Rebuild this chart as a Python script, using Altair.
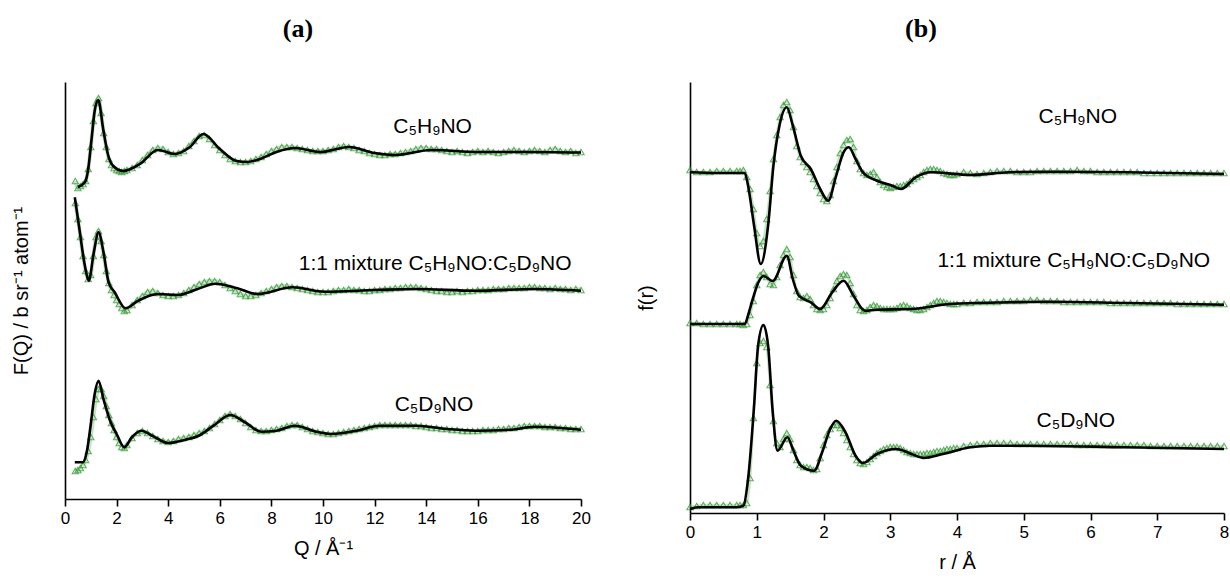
import altair as alt
import pandas as pd

# ---------------- Panel (a): F(Q) ----------------
Q_GRID = [0.4, 0.5, 0.6, 0.7, 0.8, 0.9, 1.0, 1.1, 1.2, 1.3, 1.4, 1.5, 1.6, 1.7, 1.8, 1.9, 2.0, 2.1, 2.2, 2.3, 2.4,
          2.6, 2.8, 3.0, 3.2, 3.4, 3.6, 3.8, 4.0, 4.2, 4.4, 4.6, 4.8, 5.0, 5.2, 5.4, 5.6, 5.8, 6.0, 6.2, 6.4,
          6.6, 6.8, 7.0, 7.2, 7.4, 7.6, 7.8, 8.0, 8.2, 8.4, 8.6, 8.8, 9.0, 9.2, 9.4, 9.6, 9.8, 10.0, 10.2, 10.4,
          10.6, 10.8, 11.0, 11.2, 11.4, 11.6, 11.8, 12.0, 12.2, 12.4, 12.6, 12.8, 13.0, 13.2, 13.4, 13.6, 13.8, 14.0,
          14.2, 14.4, 14.6, 14.8, 15.0, 15.2, 15.4, 15.6, 15.8, 16.0, 16.2, 16.4, 16.6, 16.8, 17.0, 17.2, 17.4, 17.6,
          17.8, 18.0, 18.2, 18.4, 18.6, 18.8, 19.0, 19.2, 19.4, 19.6, 19.8, 20.0]

# measured F(Q) (green triangles), offset curves, arbitrary units
FQ_H_DATA = [318, 311, 313, 315, 318, 330, 352, 378, 396, 401, 386, 366, 352, 340, 334, 331, 329, 328, 327, 328, 329,
             331, 334, 339, 344, 349, 351, 350, 347, 345, 346, 348, 353, 358, 363, 364, 360, 354, 349, 344, 340,
             338, 337, 337, 338, 340, 342, 345, 348, 350, 352, 352, 352, 351, 350, 349, 348, 348, 348, 349, 350,
             352, 353, 352, 351, 349, 348, 346, 345, 344, 344, 345, 345, 346, 347, 348, 350, 351, 351,
             350, 350, 349, 348, 347, 348, 347, 346, 347, 348, 347, 348, 347, 346, 347, 348, 349, 348,
             347, 348, 349, 348, 347, 349, 350, 348, 347, 348, 346, 347]
FQ_MIX_DATA = [296, 280, 262, 243, 228, 220, 224, 243, 262, 268, 258, 244, 228, 216, 209, 204, 199, 195, 191, 188, 189,
               194, 199, 203, 207, 208, 206, 204, 203, 203, 204, 206, 209, 212, 215, 217, 218, 218, 217, 214, 211,
               208, 205, 203, 203, 204, 206, 208, 210, 212, 213, 213, 212, 211, 210, 209, 208, 207, 207, 207, 208,
               209, 209, 210, 209, 209, 208, 208, 209, 209, 210, 210, 211, 211, 212, 212, 212, 211, 210,
               209, 208, 208, 207, 207, 208, 207, 208, 208, 209, 209, 209, 210, 210, 210, 211, 211, 211,
               211, 212, 212, 211, 211, 210, 211, 210, 210, 209, 210, 209]
FQ_D_DATA = [28, 29, 31, 34, 39, 48, 62, 82, 100, 110, 110, 103, 93, 84, 76, 69, 62, 56, 52, 51, 54,
             61, 66, 68, 66, 63, 60, 58, 57, 58, 60, 61, 62, 64, 66, 68, 71, 75, 79, 83, 85,
             83, 80, 76, 72, 69, 68, 68, 69, 70, 71, 73, 74, 74, 72, 70, 68, 67, 66, 65, 65,
             66, 67, 68, 69, 70, 71, 72, 73, 74, 74, 74, 74, 74, 74, 74, 73, 73, 72,
             71, 71, 70, 70, 69, 69, 68, 68, 68, 68, 69, 69, 69, 70, 70, 71, 71, 72,
             73, 73, 73, 73, 72, 72, 72, 71, 71, 70, 70, 70]

# fitted F(Q) (black lines)
FQ_H_FIT_Q = [0.5, 0.78, 0.9, 1.03, 1.15, 1.29, 1.48, 1.68, 1.87, 2.26, 2.9, 3.6, 4.26, 4.84, 5.36, 6.0, 6.65, 7.04,
              7.56, 8.2, 8.9, 9.9, 11.0, 12.0, 12.8, 14.2, 16, 18, 20]
FQ_H_FIT = [312, 317, 330, 360, 388, 399, 370, 343, 333, 328, 335, 349, 345, 352, 365, 350, 338, 337,
            340, 347, 351, 347, 352, 346, 344, 349, 347, 347, 346.5]
FQ_MIX_FIT_Q = [0.38, 0.54, 0.77, 0.92, 1.12, 1.3, 1.49, 1.69, 1.92, 2.35, 2.84, 3.6, 4.37, 5.14, 5.83, 6.68, 7.44,
                8.83, 10.05, 12.05, 13.6, 15.9, 18.2, 20]
FQ_MIX_FIT = [301.7, 273.3, 233.3, 218.3, 247, 266.7, 247, 216.7, 207, 190.7, 198.3, 205, 204, 210, 215.3, 210.7, 205,
              211.7, 207.3, 209, 210, 208.3, 210, 208.3]
FQ_D_FIT_Q = [0.38, 0.69, 0.85, 1.0, 1.15, 1.3, 1.49, 1.77, 2.0, 2.3, 2.6, 2.96, 3.38, 3.99, 4.68, 5.14, 5.76, 6.4,
              6.98, 7.6, 8.2, 8.9, 9.75, 10.36, 11.3, 12.2, 13.6, 14.8, 15.9, 17.3, 18.2, 20]
FQ_D_FIT = [36.7, 36.7, 48, 75, 105, 118.3, 100, 76.7, 65, 51.7, 62, 68.3, 63.3, 56, 59.3, 62.7, 73.3, 84,
            76.7, 67.3, 68.3, 73.3, 67.3, 65, 68.3, 73.3, 73.3, 70, 68.3, 69.3, 72.3, 69.3]

# ---------------- Panel (b): f(r) ----------------
R_GRID = [0.0, 0.1, 0.2, 0.3, 0.4, 0.5, 0.6,
          0.7, 0.75, 0.8, 0.85, 0.9, 0.95, 1.0, 1.05, 1.1, 1.15, 1.2, 1.25, 1.3, 1.35, 1.4, 1.45, 1.5, 1.55,
          1.6, 1.65, 1.7, 1.75, 1.8, 1.85, 1.9, 1.95, 2.0, 2.05, 2.1, 2.15, 2.2, 2.25, 2.3, 2.35, 2.4, 2.45,
          2.5, 2.55, 2.6, 2.65, 2.7, 2.75, 2.8, 2.85, 2.9, 2.95, 3.0, 3.05, 3.1, 3.15, 3.2, 3.25, 3.3, 3.35,
          3.4, 3.45, 3.5, 3.55, 3.6, 3.65, 3.7, 3.75, 3.8, 3.85, 3.9, 3.95, 4.0,
          4.1, 4.2, 4.3, 4.4, 4.5, 4.6, 4.7, 4.8, 4.9, 5.0, 5.1, 5.2, 5.3, 5.4, 5.5, 5.6, 5.7, 5.8, 5.9, 6.0,
          6.1, 6.2, 6.3, 6.4, 6.5, 6.6, 6.7, 6.8, 6.9, 7.0, 7.1, 7.2, 7.3, 7.4, 7.5, 7.6, 7.7, 7.8, 7.9, 8.0]

FR_H_DATA = [343, 341, 341, 341, 342, 342, 342,
             342, 342, 343, 336, 324, 304, 280, 267, 272, 294, 322, 354, 378, 396, 408, 411, 403, 386,
             367, 356, 351, 346, 341, 334, 327, 320, 314, 312, 318, 332, 346, 360, 368, 373, 374, 366,
             352, 344, 340, 338, 339, 341, 336, 331, 328, 326, 325, 326, 327, 327, 328, 329, 332, 334,
             336, 338, 341, 343, 344, 344, 343, 342, 340, 339, 338, 338, 339,
             341, 340, 339, 340, 341, 342, 342, 342, 341, 341, 341, 342, 342, 342, 342, 342, 342, 343, 342, 342,
             341, 341, 341, 341, 341, 341, 341, 340, 340, 340, 340, 340, 340, 340, 340, 340, 340, 340, 340, 340]
FR_MIX_DATA = [190, 190, 189, 189, 189, 189, 189,
               189, 189, 188, 189, 198, 212, 228, 238, 241, 236, 229, 228, 236, 248, 258, 264, 256, 238,
               222, 216, 215, 217, 214, 208, 204, 203, 204, 208, 215, 224, 232, 237, 239, 238, 230, 219,
               208, 203, 202, 203, 206, 208, 207, 205, 204, 204, 204, 204, 205, 207, 208, 207, 205, 204,
               203, 203, 204, 206, 208, 210, 212, 212, 211, 210, 209, 209, 209,
               210, 210, 211, 211, 211, 211, 212, 212, 212, 212, 213, 213, 212, 212, 212, 211, 211, 211, 211, 211,
               211, 211, 210, 210, 210, 210, 210, 210, 210, 210, 210, 210, 209, 209, 209, 209, 209, 209, 209, 209]
FR_D_DATA = [6, 7, 8, 8, 8, 8, 8,
             8, 8, 8, 10, 35, 95, 150, 170, 172, 166, 128, 92, 70, 66, 74, 80, 74, 63,
             53, 48, 46, 46, 45, 43, 44, 55, 68, 78, 84, 88, 88, 85, 80, 73, 66, 59,
             53, 50, 49, 51, 54, 57, 60, 62, 64, 65, 66, 66, 66, 65, 63, 61, 60, 59,
             59, 59, 59, 60, 60, 61, 62, 62, 63, 64, 64, 65, 65,
             67, 68, 69, 69, 70, 70, 70, 70, 69, 69, 69, 69, 69, 69, 69, 69, 69, 68, 68, 68,
             68, 68, 68, 68, 68, 68, 68, 68, 67, 67, 67, 67, 67, 67, 67, 67, 67, 67, 67, 67]

FR_H_FIT_R = [0, 0.4, 0.82, 0.87, 0.96, 1.06, 1.17, 1.25, 1.34, 1.45, 1.54, 1.66, 1.81, 1.95, 2.07, 2.19, 2.3, 2.38,
              2.48, 2.59, 2.8, 3.03, 3.16, 3.38, 3.61, 4.2, 4.78, 5.36, 6.53, 8]
FR_H_FIT = [340.7, 340, 340, 327.3, 287.3, 249, 287.3, 347.3, 387.3, 405.7, 387.3, 357.3, 344, 324, 312.3, 337.3,
            360.7, 365.7, 354, 340.7, 332.3, 327.3, 324, 335.7, 340.7, 338, 340.7, 341.3, 340.7, 339]
FR_MIX_FIT_R = [0, 0.82, 0.88, 0.94, 1.02, 1.1, 1.24, 1.45, 1.54, 1.63, 1.81, 1.95, 2.13, 2.3, 2.45, 2.62, 2.8, 3.32,
                3.9, 4.78, 5.36, 6.53, 8]
FR_MIX_FIT = [189, 189, 200, 214, 230, 237, 232, 257.3, 234, 217.3, 210.7, 204, 220.7, 232.3, 217.3, 202.3, 203.3,
              204, 209, 210.7, 211.3, 210, 208.3]
FR_D_FIT_R = [0, 0.12, 0.7, 0.8, 0.87, 0.96, 1.02, 1.1, 1.17, 1.24, 1.31, 1.46, 1.54, 1.66, 1.86, 1.98, 2.1, 2.19,
              2.33, 2.48, 2.59, 2.8, 3.09, 3.32, 3.5, 3.79, 4.2, 4.49, 5.07, 6.53, 8]
FR_D_FIT = [4, 5.7, 5.7, 7.3, 34, 107.3, 167.3, 188, 167.3, 100.7, 62.3, 75.7, 64, 47.3, 42.3, 60.7, 84, 92.3,
            80.7, 57.3, 50, 59, 64, 59, 55, 59, 65.7, 67.3, 67.3, 65.7, 64]

# ---------------- labels ----------------
SERIES = ["C₅H₉NO", "1:1 mixture C₅H₉NO:C₅D₉NO", "C₅D₉NO"]
LABEL_Q = [14.25, 14.35, 14.3]
LABEL_Q_H = [372, 235, 94]
LABEL_R = [5.81, 5.75, 5.78]
LABEL_R_H = [396, 252, 92]

Q_TICKS = [0, 2, 4, 6, 8, 10, 12, 14, 16, 18, 20]
R_TICKS = [0, 1, 2, 3, 4, 5, 6, 7, 8]


def long_df(xs_list, ys_list, names):
    rows = []
    for xs, ys, name in zip(xs_list, ys_list, names):
        if len(xs) != len(ys):
            raise ValueError(f"length mismatch for {name}: {len(xs)} vs {len(ys)}")
        for x, y in zip(xs, ys):
            rows.append({"x": x, "h": y, "curve": name})
    return pd.DataFrame(rows)


a_pts = long_df([Q_GRID] * 3, [FQ_H_DATA, FQ_MIX_DATA, FQ_D_DATA], SERIES)
a_fit = long_df([FQ_H_FIT_Q, FQ_MIX_FIT_Q, FQ_D_FIT_Q], [FQ_H_FIT, FQ_MIX_FIT, FQ_D_FIT], SERIES)
a_lab = pd.DataFrame({"x": LABEL_Q, "h": LABEL_Q_H, "label": SERIES})

b_pts = long_df([R_GRID] * 3, [FR_H_DATA, FR_MIX_DATA, FR_D_DATA], SERIES)
b_fit = long_df([FR_H_FIT_R, FR_MIX_FIT_R, FR_D_FIT_R], [FR_H_FIT, FR_MIX_FIT, FR_D_FIT], SERIES)
b_lab = pd.DataFrame({"x": LABEL_R, "h": LABEL_R_H, "label": SERIES})

GREEN = "#3a9c3a"


def panel(pts, fit, lab, xdom, xticks, ydom, w, h, xtitle, ytitle, ttl, tdx, band_w):
    X = alt.X("x:Q", scale=alt.Scale(domain=xdom, nice=False, zero=False),
              axis=alt.Axis(values=xticks, title=xtitle, labelFlush=False, format="d",
                            labelPadding=4, titlePadding=12))
    Y = alt.Y("h:Q", scale=alt.Scale(domain=ydom, nice=False, zero=False),
              axis=alt.Axis(title=ytitle, labels=False, ticks=False, titlePadding=34))
    band = alt.Chart(pts).mark_line(color="#7cc47c", strokeWidth=band_w, opacity=0.45,
                                    interpolate="monotone").encode(x=X, y=Y, detail="curve:N")
    tri = alt.Chart(pts).mark_point(shape="triangle-up", filled=False, size=40, strokeWidth=1.1,
                                    color=GREEN, opacity=0.8).encode(x=X, y=Y, detail="curve:N")
    line = alt.Chart(fit).mark_line(color="black", strokeWidth=2.6, interpolate="monotone").encode(
        x=X, y=Y, detail="curve:N")
    txt = alt.Chart(lab).mark_text(font="Liberation Sans", fontSize=21, color="black").encode(
        x=X, y=Y, text="label:N")
    return alt.layer(band, tri, line, txt).properties(
        width=w, height=h,
        title=alt.TitleParams(text=ttl, font="Liberation Serif", fontSize=26, fontWeight="bold",
                              anchor="middle", dx=tdx, offset=40, color="black"))


pa = panel(a_pts, a_fit, a_lab, [0, 20], Q_TICKS, [0, 417], 516, 417,
           "Q / Å⁻¹", "F(Q) / b sr⁻¹ atom⁻¹", "(a)", -25, 4)
pb = panel(b_pts, b_fit, b_lab, [0, 8], R_TICKS, [0, 431], 534, 431,
           "r / Å", "f(r)", "(b)", -36, 2.5)

chart = alt.hconcat(pa, pb, spacing=45).properties(
    padding={"left": 11, "top": 16, "right": 0, "bottom": 0},
    background="white",
).configure_view(stroke=None).configure_axis(
    domainColor="black", domainWidth=1.6, tickColor="black", tickWidth=1.6, tickSize=7,
    labelFont="Liberation Sans", labelFontSize=17, labelColor="black",
    titleFont="Liberation Sans", titleFontSize=20, titleFontWeight="normal", titleColor="black",
    grid=False,
)

chart.save("out.html", embed_options={"renderer": "svg", "actions": False})
